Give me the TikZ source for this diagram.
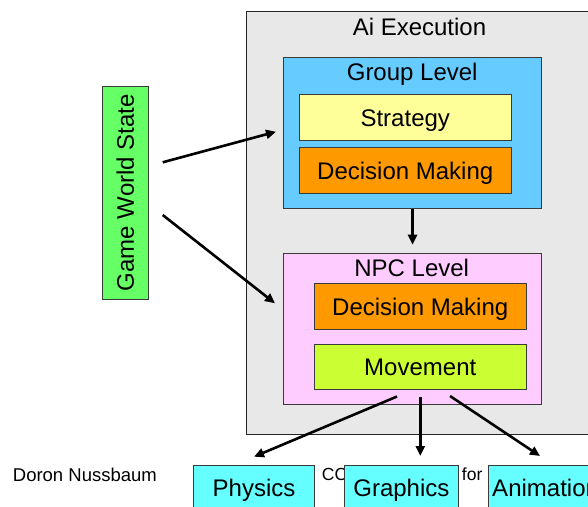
\documentclass[tikz,border=0pt]{standalone}
\usepackage{fontspec}
\setmainfont{Liberation Sans}
\usetikzlibrary{arrows.meta}

\definecolor{aigray}{HTML}{E8E8E8}
\definecolor{groupblue}{HTML}{66CCFF}
\definecolor{strategyyellow}{HTML}{FFFF99}
\definecolor{decisionorange}{HTML}{FF9900}
\definecolor{npcpink}{HTML}{FFCCFF}
\definecolor{movegreen}{HTML}{CCFF33}
\definecolor{worldgreen}{HTML}{66FF66}
\definecolor{outcyan}{HTML}{66FFFF}
\definecolor{boxline}{HTML}{3A3A3A}

\begin{document}
\begin{tikzpicture}[x=1pt,y=-1pt,
  bigfont/.style={font=\fontsize{24}{28}\selectfont, text height=17.2pt, text depth=0pt},
  box/.style={draw=boxline, line width=0.8pt, inner sep=0pt, anchor=north west, bigfont},
  caption/.style={bigfont, inner sep=0pt},
  foot/.style={inner sep=0pt, anchor=base west},
  flow/.style={line width=2.6pt, -{Triangle[length=10pt,width=9pt]}}]
\useasboundingbox (0,0) rectangle (588,506);
\clip (0,0) rectangle (588,506);

% execution frame and its two levels
\node[box, draw=black!85, line width=1pt, fill=aigray, minimum width=360pt, minimum height=423pt] (ai) at (246,11) {};
\node[caption] (aititle) at (419.5,26.5) {Ai Execution};

\node[box, fill=groupblue, minimum width=257.7pt, minimum height=151pt] (group) at (283.3,56.7) {};
\node[caption] (grouptitle) at (412.2,71.7) {Group Level};
\node[box, fill=strategyyellow, minimum width=212.3pt, minimum height=45.4pt] (strategy) at (298.7,94.3) {Strategy};
\node[box, fill=decisionorange, minimum width=212.3pt, minimum height=45.4pt] (gdecide) at (298.7,147.3) {Decision Making};

\node[box, fill=npcpink, minimum width=257.7pt, minimum height=151.3pt] (npc) at (283.3,252.7) {};
\node[caption] (npctitle) at (411.7,267.5) {NPC Level};
\node[box, fill=decisionorange, minimum width=212.3pt, minimum height=45.4pt] (ndecide) at (313.7,283.3) {Decision Making};
\node[box, fill=movegreen, minimum width=212.3pt, minimum height=45.3pt] (move) at (313.7,343.7) {Movement};

% world state input
\node[draw=boxline, line width=0.8pt, fill=worldgreen, inner sep=0pt, bigfont,
      rotate=90, minimum width=213.3pt, minimum height=46pt] (world) at (125.3,192.7) {Game World State};

% footer text (partly covered by the output boxes)
\node[foot, font=\fontsize{18.5}{22}\selectfont] (author) at (12.7,481.5) {Doron Nussbaum};
\node[foot, font=\fontsize{17.5}{21}\selectfont] (course) at (321.7,480) {CC};

% output subsystems
\node[box, fill=outcyan, minimum width=120.7pt, minimum height=45pt] (physics) at (193.3,464.7) {Physics};
\node[box, fill=outcyan, minimum width=113.4pt, minimum height=45pt] (graphics) at (344.3,464.7) {Graphics};
\node[box, fill=outcyan, minimum width=115pt, minimum height=45pt] (animation) at (487.7,464.7) {Animation};
\node[foot, font=\fontsize{17.5}{21}\selectfont] (for) at (461.7,480) {for};

% connector end points
\coordinate (w1) at (162.7,162.3);
\coordinate (w1e) at (276,131.7);
\coordinate (w2) at (162.7,215);
\coordinate (w2e) at (275,303.3);
\coordinate (m1) at (397,396.5);
\coordinate (m2) at (420.3,397);
\coordinate (m3) at (450,396);
\coordinate (p1) at (254,456.7);
\coordinate (p2) at (420.3,456);
\coordinate (p3) at (540,456);

\draw[flow] (w1) -- (w1e);
\draw[flow] (w2) -- (w2e);
\draw[flow] (group.south) -- ([yshift=8pt]npc.north);
\draw[flow] (m1) -- (p1);
\draw[flow] (m2) -- (p2);
\draw[flow] (m3) -- (p3);
\end{tikzpicture}
\end{document}
